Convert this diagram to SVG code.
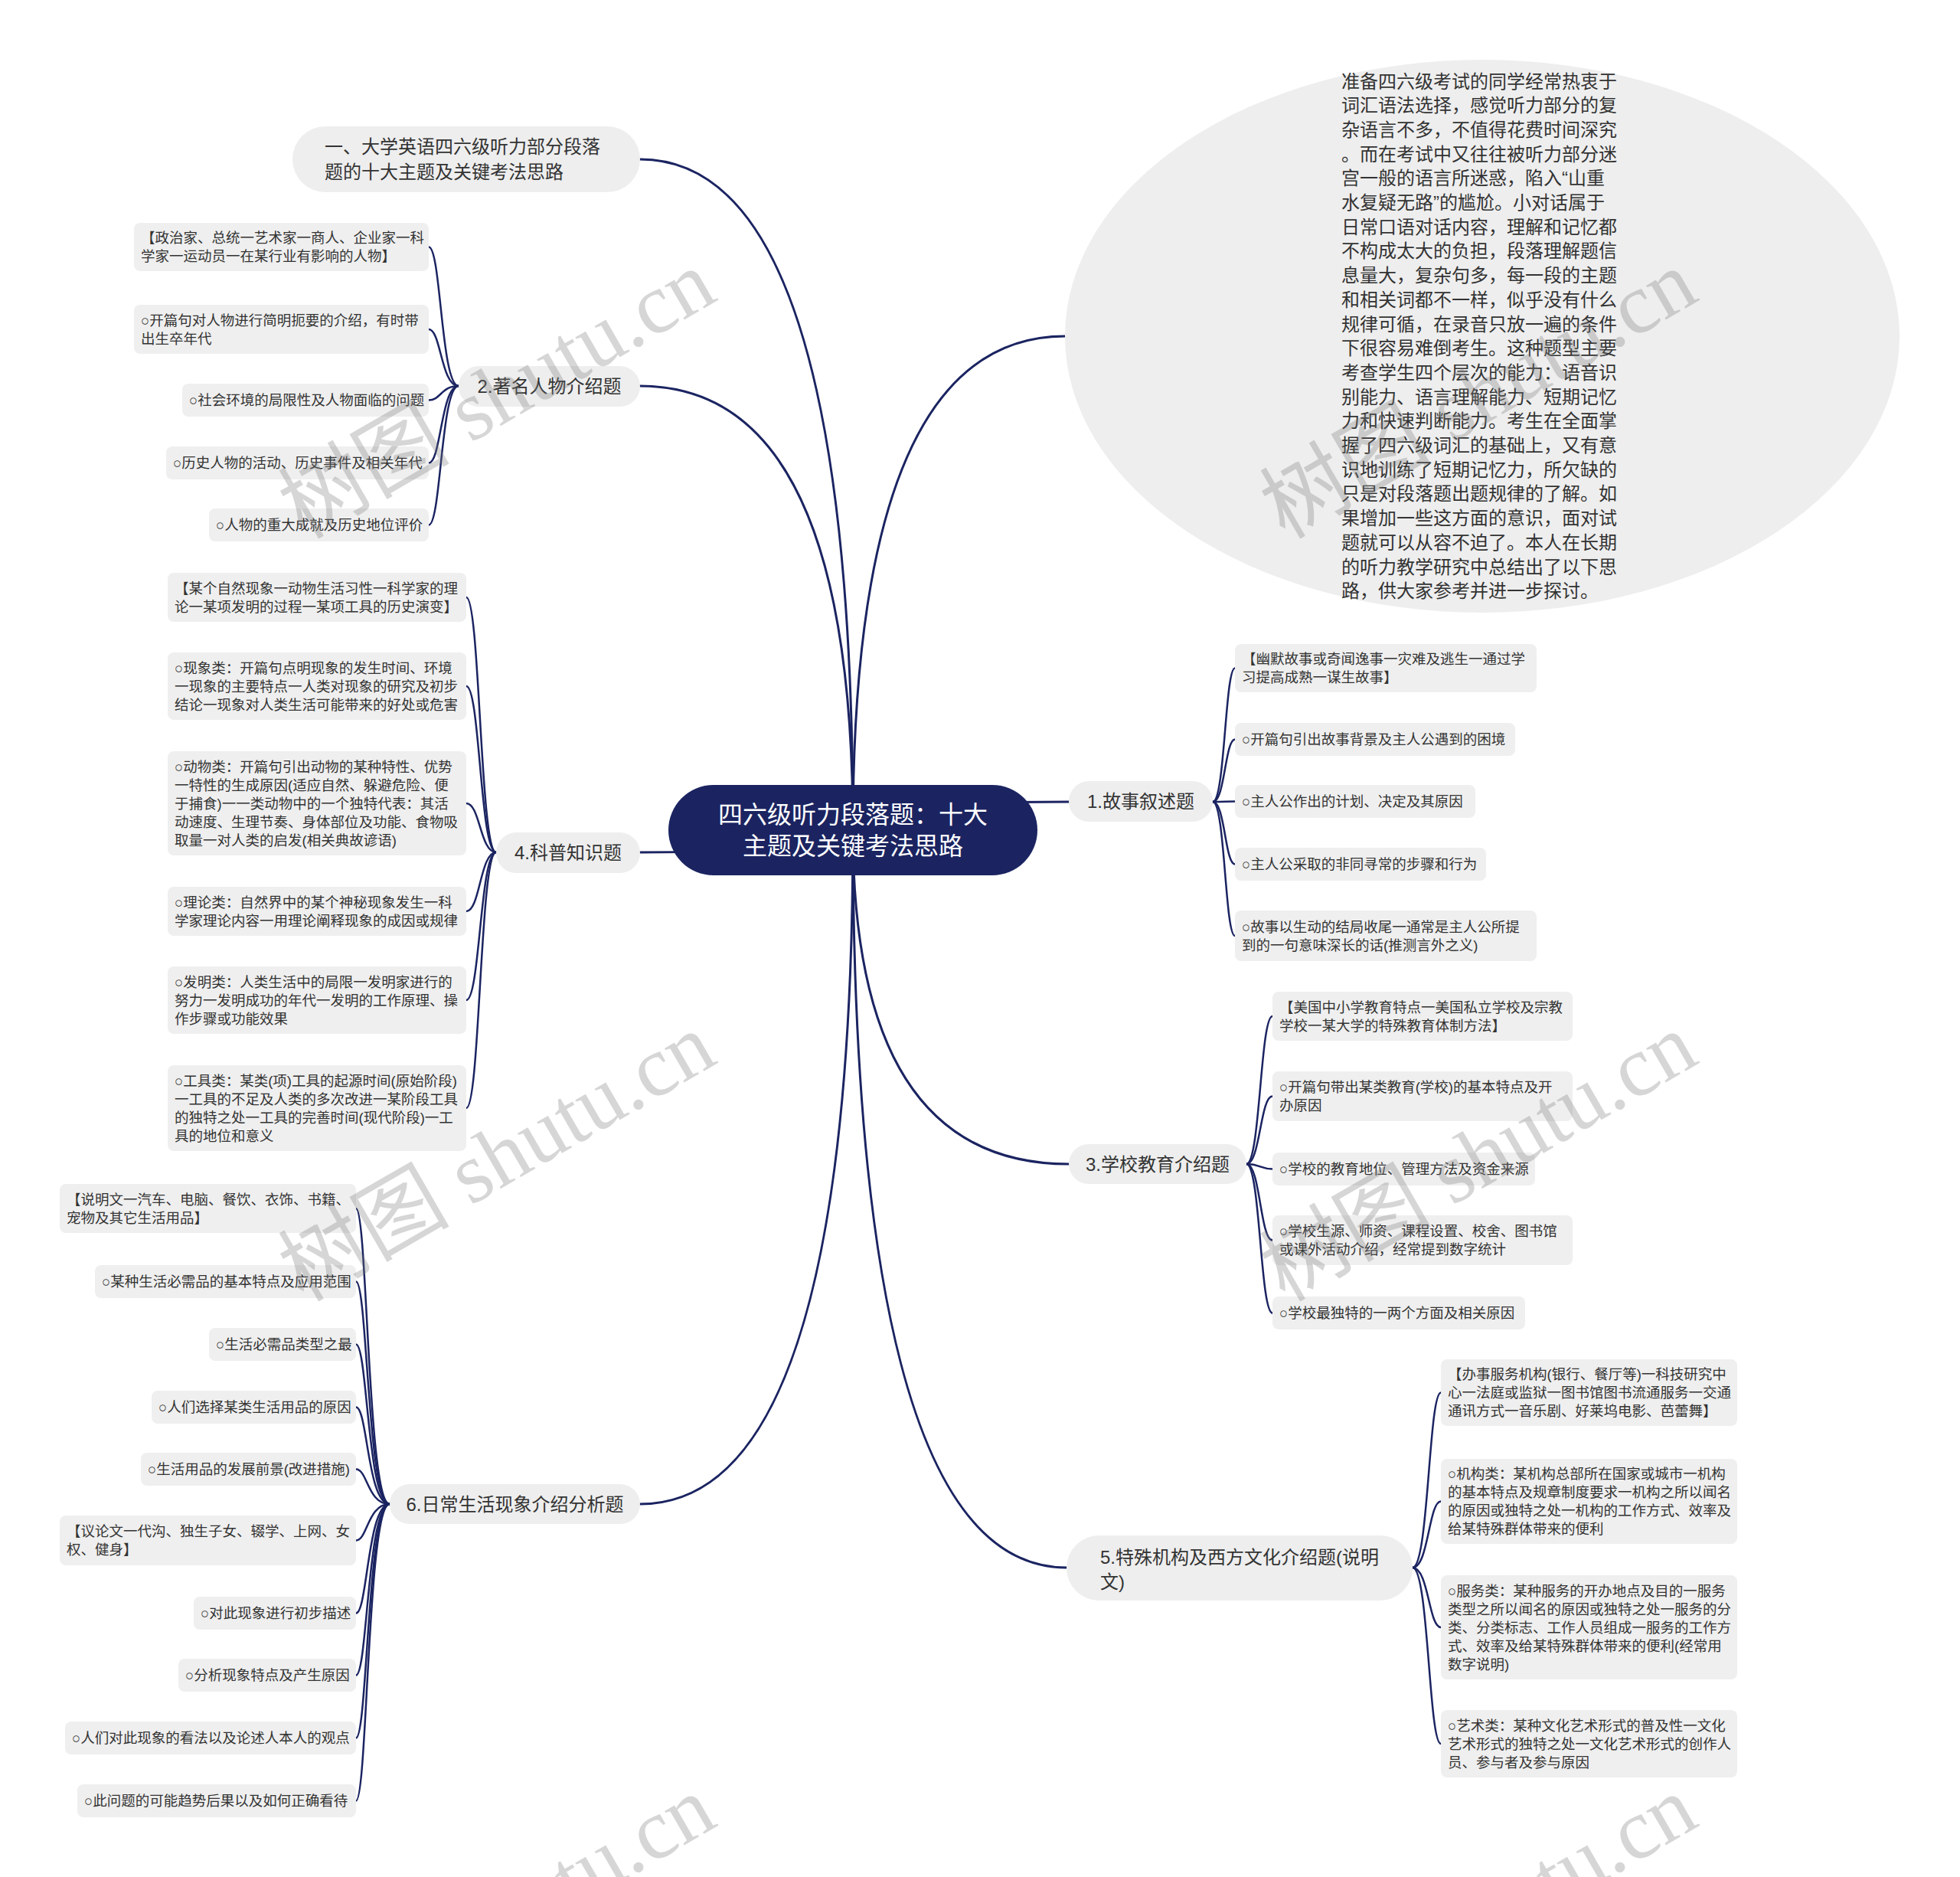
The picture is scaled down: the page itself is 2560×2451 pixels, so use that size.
<svg xmlns="http://www.w3.org/2000/svg" width="2560" height="2451" viewBox="0 0 2560 2451">
<style>
text{font-family:"Liberation Sans","Noto Sans CJK SC",sans-serif;fill:#333;dominant-baseline:central}
.leaf rect{fill:#efefef}
.leaf text{font-size:18.5px}
.l1 rect,.l1 ellipse{fill:#eeeeee}
.l1 text{font-size:24px}
.root rect{fill:#1b2461}
.root text{fill:#fff;font-size:32px;text-anchor:middle}
.c{text-anchor:middle}
#links path{fill:none;stroke:#1b2461;stroke-linecap:round}
#links .m{stroke-width:3}
#links .s{stroke-width:2.5}
.wm text{font-family:"Liberation Serif","Noto Sans CJK SC",serif;font-size:112px;fill:#7a7a7a;opacity:0.3;text-anchor:middle}
</style>
<rect width="2560" height="2451" fill="#fff"/>
<g id="links">
<path class="m" d="M1114,1084 Q1114,208 836,208"/>
<path class="m" d="M1114,1084 Q1114,504 836,504"/>
<path class="m" d="M1114,1084 Q1114,1113 836,1113"/>
<path class="m" d="M1114,1084 Q1114,1964 836,1964"/>
<path class="m" d="M1114,1084 Q1114,439 1391,439"/>
<path class="m" d="M1114,1084 Q1114,1047 1396,1047"/>
<path class="m" d="M1114,1084 Q1114,1520 1396,1520"/>
<path class="m" d="M1114,1084 Q1114,2047 1393,2047"/>
<path class="s" d="M599,504 C576,504 576,322.5 560,322.5"/>
<path class="s" d="M599,504 C576,504 576,430 560,430"/>
<path class="s" d="M599,504 C576,504 576,522.5 560,522.5"/>
<path class="s" d="M599,504 C576,504 576,604.5 560,604.5"/>
<path class="s" d="M599,504 C576,504 576,685.5 560,685.5"/>
<path class="s" d="M648,1113 C627,1113 627,780 609,780"/>
<path class="s" d="M648,1113 C627,1113 627,896 609,896"/>
<path class="s" d="M648,1113 C627,1113 627,1049 609,1049"/>
<path class="s" d="M648,1113 C627,1113 627,1190 609,1190"/>
<path class="s" d="M648,1113 C627,1113 627,1306 609,1306"/>
<path class="s" d="M648,1113 C627,1113 627,1447 609,1447"/>
<path class="s" d="M509,1964 C480,1964 480,1578 465,1578"/>
<path class="s" d="M509,1964 C480,1964 480,1673.5 465,1673.5"/>
<path class="s" d="M509,1964 C480,1964 480,1755.5 465,1755.5"/>
<path class="s" d="M509,1964 C480,1964 480,1837.5 465,1837.5"/>
<path class="s" d="M509,1964 C480,1964 480,1918.5 465,1918.5"/>
<path class="s" d="M509,1964 C480,1964 480,2011.5 465,2011.5"/>
<path class="s" d="M509,1964 C480,1964 480,2106.5 465,2106.5"/>
<path class="s" d="M509,1964 C480,1964 480,2187.5 465,2187.5"/>
<path class="s" d="M509,1964 C480,1964 480,2269.5 465,2269.5"/>
<path class="s" d="M509,1964 C480,1964 480,2351.5 465,2351.5"/>
<path class="s" d="M1584,1047 C1600,1047 1600,872.5 1613,872.5"/>
<path class="s" d="M1584,1047 C1600,1047 1600,965.5 1613,965.5"/>
<path class="s" d="M1584,1047 C1600,1047 1600,1046.5 1613,1046.5"/>
<path class="s" d="M1584,1047 C1600,1047 1600,1128.5 1613,1128.5"/>
<path class="s" d="M1584,1047 C1600,1047 1600,1222 1613,1222"/>
<path class="s" d="M1628,1520 C1646,1520 1646,1327 1662,1327"/>
<path class="s" d="M1628,1520 C1646,1520 1646,1431.5 1662,1431.5"/>
<path class="s" d="M1628,1520 C1646,1520 1646,1526.5 1662,1526.5"/>
<path class="s" d="M1628,1520 C1646,1520 1646,1619.5 1662,1619.5"/>
<path class="s" d="M1628,1520 C1646,1520 1646,1714.5 1662,1714.5"/>
<path class="s" d="M1845,2047 C1866,2047 1866,1818.5 1882,1818.5"/>
<path class="s" d="M1845,2047 C1866,2047 1866,1960.5 1882,1960.5"/>
<path class="s" d="M1845,2047 C1866,2047 1866,2125 1882,2125"/>
<path class="s" d="M1845,2047 C1866,2047 1866,2277 1882,2277"/>
</g>

<g id="root" class="root">
<rect x="873" y="1025" width="482" height="118" rx="59"/>
<text x="1114" y="1064">四六级听力段落题：十大</text>
<text x="1114" y="1105">主题及关键考法思路</text>
</g>

<g id="n0" class="l1">
<rect x="382" y="165" width="454" height="86" rx="43"/>
<text x="424" y="191">一、大学英语四六级听力部分段落</text>
<text x="424" y="224">题的十大主题及关键考法思路</text>
</g>
<g id="intro" class="l1">
<ellipse cx="1936" cy="439" rx="545" ry="361"/>
<text x="1752" y="106">准备四六级考试的同学经常热衷于</text>
<text x="1752" y="137.7">词汇语法选择，感觉听力部分的复</text>
<text x="1752" y="169.4">杂语言不多，不值得花费时间深究</text>
<text x="1752" y="201.1">。而在考试中又往往被听力部分迷</text>
<text x="1752" y="232.8">宫一般的语言所迷惑，陷入“山重</text>
<text x="1752" y="264.5">水复疑无路”的尴尬。小对话属于</text>
<text x="1752" y="296.2">日常口语对话内容，理解和记忆都</text>
<text x="1752" y="327.9">不构成太大的负担，段落理解题信</text>
<text x="1752" y="359.6">息量大，复杂句多，每一段的主题</text>
<text x="1752" y="391.3">和相关词都不一样，似乎没有什么</text>
<text x="1752" y="423">规律可循，在录音只放一遍的条件</text>
<text x="1752" y="454.7">下很容易难倒考生。这种题型主要</text>
<text x="1752" y="486.4">考查学生四个层次的能力：语音识</text>
<text x="1752" y="518.1">别能力、语言理解能力、短期记忆</text>
<text x="1752" y="549.8">力和快速判断能力。考生在全面掌</text>
<text x="1752" y="581.5">握了四六级词汇的基础上，又有意</text>
<text x="1752" y="613.2">识地训练了短期记忆力，所欠缺的</text>
<text x="1752" y="644.9">只是对段落题出题规律的了解。如</text>
<text x="1752" y="676.6">果增加一些这方面的意识，面对试</text>
<text x="1752" y="708.3">题就可以从容不迫了。本人在长期</text>
<text x="1752" y="740">的听力教学研究中总结出了以下思</text>
<text x="1752" y="771.7">路，供大家参考并进一步探讨。</text>
</g>

<g id="n2" class="l1">
<rect x="599" y="478" width="237" height="53" rx="26.5"/>
<text class="c" x="717.5" y="504.5">2.著名人物介绍题</text>
</g>
<g id="n4" class="l1">
<rect x="648" y="1087" width="188" height="53" rx="26.5"/>
<text class="c" x="742" y="1113.5">4.科普知识题</text>
</g>
<g id="n6" class="l1">
<rect x="509" y="1938" width="327" height="52" rx="26"/>
<text class="c" x="672.5" y="1964">6.日常生活现象介绍分析题</text>
</g>
<g id="n1" class="l1">
<rect x="1396" y="1020" width="188" height="53" rx="26.5"/>
<text class="c" x="1490" y="1046.5">1.故事叙述题</text>
</g>
<g id="n3" class="l1">
<rect x="1396" y="1494" width="232" height="52" rx="26"/>
<text class="c" x="1512" y="1520">3.学校教育介绍题</text>
</g>
<g id="n5" class="l1">
<rect x="1393" y="2005" width="452" height="85" rx="42.5"/>
<text x="1437" y="2033">5.特殊机构及西方文化介绍题(说明</text>
<text x="1437" y="2065">文)</text>
</g>

<g id="c2a" class="leaf"><rect x="175" y="291" width="385" height="63" rx="8"/><text x="184" y="310.5">【政治家、总统一艺术家一商人、企业家一科</text><text x="184" y="334.5">学家一运动员一在某行业有影响的人物】</text></g>
<g id="c2b" class="leaf"><rect x="175" y="398" width="385" height="64" rx="8"/><text x="184" y="418">○开篇句对人物进行简明扼要的介绍，有时带</text><text x="184" y="442">出生卒年代</text></g>
<g id="c2c" class="leaf"><rect x="238" y="501" width="322" height="43" rx="8"/><text x="247" y="522.5">○社会环境的局限性及人物面临的问题</text></g>
<g id="c2d" class="leaf"><rect x="217" y="583" width="343" height="43" rx="8"/><text x="226" y="604.5">○历史人物的活动、历史事件及相关年代</text></g>
<g id="c2e" class="leaf"><rect x="273" y="664" width="287" height="43" rx="8"/><text x="282" y="685.5">○人物的重大成就及历史地位评价</text></g>

<g id="c4a" class="leaf"><rect x="219" y="748" width="390" height="64" rx="8"/><text x="228" y="768">【某个自然现象一动物生活习性一科学家的理</text><text x="228" y="792">论一某项发明的过程一某项工具的历史演变】</text></g>
<g id="c4b" class="leaf"><rect x="219" y="852" width="390" height="88" rx="8"/><text x="228" y="872">○现象类：开篇句点明现象的发生时间、环境</text><text x="228" y="896">一现象的主要特点一人类对现象的研究及初步</text><text x="228" y="920">结论一现象对人类生活可能带来的好处或危害</text></g>
<g id="c4c" class="leaf"><rect x="219" y="981" width="390" height="136" rx="8"/><text x="228" y="1001">○动物类：开篇句引出动物的某种特性、优势</text><text x="228" y="1025">一特性的生成原因(适应自然、躲避危险、便</text><text x="228" y="1049">于捕食)一一类动物中的一个独特代表：其活</text><text x="228" y="1073">动速度、生理节奏、身体部位及功能、食物吸</text><text x="228" y="1097">取量一对人类的启发(相关典故谚语)</text></g>
<g id="c4d" class="leaf"><rect x="219" y="1158" width="390" height="64" rx="8"/><text x="228" y="1178">○理论类：自然界中的某个神秘现象发生一科</text><text x="228" y="1202">学家理论内容一用理论阐释现象的成因或规律</text></g>
<g id="c4e" class="leaf"><rect x="219" y="1262" width="390" height="88" rx="8"/><text x="228" y="1282">○发明类：人类生活中的局限一发明家进行的</text><text x="228" y="1306">努力一发明成功的年代一发明的工作原理、操</text><text x="228" y="1330">作步骤或功能效果</text></g>
<g id="c4f" class="leaf"><rect x="219" y="1391" width="390" height="112" rx="8"/><text x="228" y="1411">○工具类：某类(项)工具的起源时间(原始阶段)</text><text x="228" y="1435">一工具的不足及人类的多次改进一某阶段工具</text><text x="228" y="1459">的独特之处一工具的完善时间(现代阶段)一工</text><text x="228" y="1483">具的地位和意义</text></g>

<g id="c6a" class="leaf"><rect x="78" y="1546" width="387" height="64" rx="8"/><text x="87" y="1566">【说明文一汽车、电脑、餐饮、衣饰、书籍、</text><text x="87" y="1590">宠物及其它生活用品】</text></g>
<g id="c6b" class="leaf"><rect x="124" y="1652" width="341" height="43" rx="8"/><text x="133" y="1673.5">○某种生活必需品的基本特点及应用范围</text></g>
<g id="c6c" class="leaf"><rect x="273" y="1734" width="192" height="43" rx="8"/><text x="282" y="1755.5">○生活必需品类型之最</text></g>
<g id="c6d" class="leaf"><rect x="198" y="1816" width="267" height="43" rx="8"/><text x="207" y="1837.5">○人们选择某类生活用品的原因</text></g>
<g id="c6e" class="leaf"><rect x="184" y="1897" width="281" height="43" rx="8"/><text x="193" y="1918.5">○生活用品的发展前景(改进措施)</text></g>
<g id="c6f" class="leaf"><rect x="78" y="1979" width="387" height="65" rx="8"/><text x="87" y="1999.5">【议论文一代沟、独生子女、辍学、上网、女</text><text x="87" y="2023.5">权、健身】</text></g>
<g id="c6g" class="leaf"><rect x="253" y="2085" width="212" height="43" rx="8"/><text x="262" y="2106.5">○对此现象进行初步描述</text></g>
<g id="c6h" class="leaf"><rect x="233" y="2166" width="232" height="43" rx="8"/><text x="242" y="2187.5">○分析现象特点及产生原因</text></g>
<g id="c6i" class="leaf"><rect x="85" y="2248" width="380" height="43" rx="8"/><text x="94" y="2269.5">○人们对此现象的看法以及论述人本人的观点</text></g>
<g id="c6j" class="leaf"><rect x="101" y="2330" width="364" height="43" rx="8"/><text x="110" y="2351.5">○此问题的可能趋势后果以及如何正确看待</text></g>

<g id="c1a" class="leaf"><rect x="1613" y="841" width="394" height="63" rx="8"/><text x="1622" y="860.5">【幽默故事或奇闻逸事一灾难及逃生一通过学</text><text x="1622" y="884.5">习提高成熟一谋生故事】</text></g>
<g id="c1b" class="leaf"><rect x="1613" y="944" width="366" height="43" rx="8"/><text x="1622" y="965.5">○开篇句引出故事背景及主人公遇到的困境</text></g>
<g id="c1c" class="leaf"><rect x="1613" y="1025" width="314" height="43" rx="8"/><text x="1622" y="1046.5">○主人公作出的计划、决定及其原因</text></g>
<g id="c1d" class="leaf"><rect x="1613" y="1107" width="328" height="43" rx="8"/><text x="1622" y="1128.5">○主人公采取的非同寻常的步骤和行为</text></g>
<g id="c1e" class="leaf"><rect x="1613" y="1189" width="394" height="66" rx="8"/><text x="1622" y="1210">○故事以生动的结局收尾一通常是主人公所提</text><text x="1622" y="1234">到的一句意味深长的话(推测言外之义)</text></g>

<g id="c3a" class="leaf"><rect x="1662" y="1295" width="392" height="64" rx="8"/><text x="1671" y="1315">【美国中小学教育特点一美国私立学校及宗教</text><text x="1671" y="1339">学校一某大学的特殊教育体制方法】</text></g>
<g id="c3b" class="leaf"><rect x="1662" y="1399" width="392" height="65" rx="8"/><text x="1671" y="1419.5">○开篇句带出某类教育(学校)的基本特点及开</text><text x="1671" y="1443.5">办原因</text></g>
<g id="c3c" class="leaf"><rect x="1662" y="1505" width="343" height="43" rx="8"/><text x="1671" y="1526.5">○学校的教育地位、管理方法及资金来源</text></g>
<g id="c3d" class="leaf"><rect x="1662" y="1587" width="392" height="65" rx="8"/><text x="1671" y="1607.5">○学校生源、师资、课程设置、校舍、图书馆</text><text x="1671" y="1631.5">或课外活动介绍，经常提到数字统计</text></g>
<g id="c3e" class="leaf"><rect x="1662" y="1693" width="330" height="43" rx="8"/><text x="1671" y="1714.5">○学校最独特的一两个方面及相关原因</text></g>

<g id="c5a" class="leaf"><rect x="1882" y="1775" width="387" height="87" rx="8"/><text x="1891" y="1794.5">【办事服务机构(银行、餐厅等)一科技研究中</text><text x="1891" y="1818.5">心一法庭或监狱一图书馆图书流通服务一交通</text><text x="1891" y="1842.5">通讯方式一音乐剧、好莱坞电影、芭蕾舞】</text></g>
<g id="c5b" class="leaf"><rect x="1882" y="1905" width="387" height="111" rx="8"/><text x="1891" y="1924.5">○机构类：某机构总部所在国家或城市一机构</text><text x="1891" y="1948.5">的基本特点及规章制度要求一机构之所以闻名</text><text x="1891" y="1972.5">的原因或独特之处一机构的工作方式、效率及</text><text x="1891" y="1996.5">给某特殊群体带来的便利</text></g>
<g id="c5c" class="leaf"><rect x="1882" y="2057" width="387" height="136" rx="8"/><text x="1891" y="2077">○服务类：某种服务的开办地点及目的一服务</text><text x="1891" y="2101">类型之所以闻名的原因或独特之处一服务的分</text><text x="1891" y="2125">类、分类标志、工作人员组成一服务的工作方</text><text x="1891" y="2149">式、效率及给某特殊群体带来的便利(经常用</text><text x="1891" y="2173">数字说明)</text></g>
<g id="c5d" class="leaf"><rect x="1882" y="2233" width="387" height="88" rx="8"/><text x="1891" y="2253">○艺术类：某种文化艺术形式的普及性一文化</text><text x="1891" y="2277">艺术形式的独特之处一文化艺术形式的创作人</text><text x="1891" y="2301">员、参与者及参与原因</text></g>

<g class="wm">
<text transform="translate(649,515) rotate(-30)">树图 shutu.cn</text>
<text transform="translate(1931,515) rotate(-30)">树图 shutu.cn</text>
<text transform="translate(649,1511) rotate(-30)">树图 shutu.cn</text>
<text transform="translate(1931,1511) rotate(-30)">树图 shutu.cn</text>
<text transform="translate(649,2507) rotate(-30)">树图 shutu.cn</text>
<text transform="translate(1931,2507) rotate(-30)">树图 shutu.cn</text>
</g>
</svg>
